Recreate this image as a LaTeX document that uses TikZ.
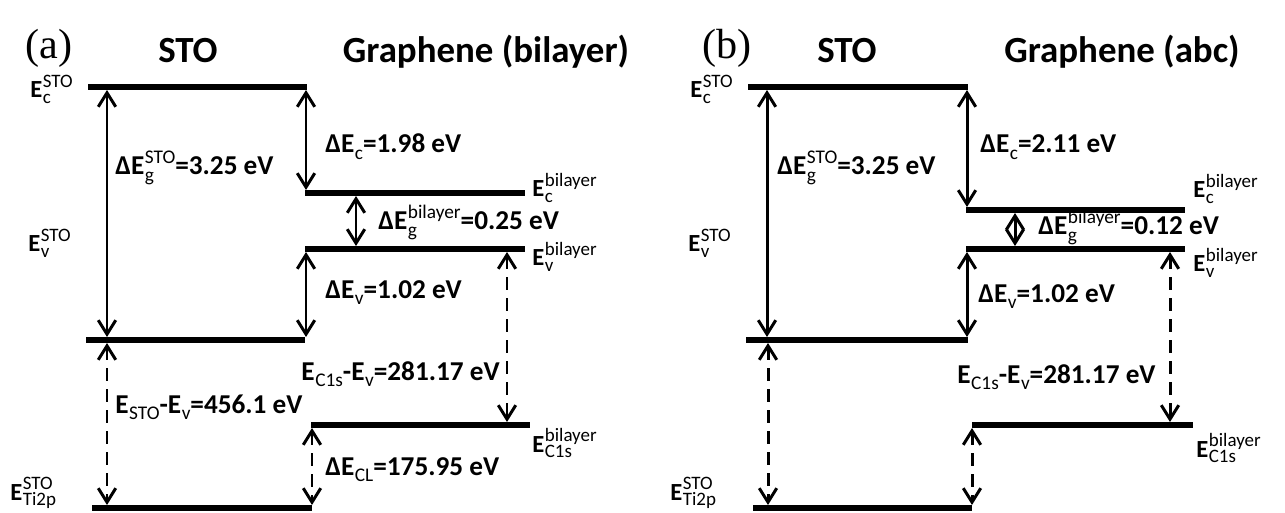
\documentclass[tikz,border=0pt]{standalone}
\usepackage{fontspec}
\setmainfont{Carlito}
\newfontfamily\tagfont{Liberation Serif}
\usetikzlibrary{arrows.meta}

% sub/superscripts in regular weight, size set by the label style
\newcommand{\subfnt}{\mdseries}
\newcommand{\lowtxt}[1]{\kern.02em\raisebox{-0.24em}{\subfnt #1}}
\newcommand{\hightxt}[1]{\kern.02em\raisebox{0.42em}{\subfnt #1}}
\newcommand{\bothtxt}[2]{\kern.02em\begingroup
  \setbox0\hbox{\raisebox{-0.24em}{\subfnt #1}}%
  \setbox2\hbox{\raisebox{0.42em}{\subfnt #2}}%
  \ifdim\wd0>\wd2 \rlap{\box2}\box0 \else\rlap{\box0}\box2 \fi\endgroup}

\tikzset{
  bandline/.style={line width=3.4pt},
  gaparrow/.style={line width=1.7pt,{Straight Barb[length=2.8mm,width=3.5mm]}-{Straight Barb[length=2.8mm,width=3.5mm]}},
  corearrow/.style={gaparrow,dash pattern=on 2.6mm off 1.6mm},
  gaplabel/.style={anchor=base west,inner sep=0pt,
    font=\fontsize{15.5}{18}\selectfont\bfseries\renewcommand{\subfnt}{\fontsize{11}{12}\selectfont\mdseries}},
  levlabel/.style={anchor=base west,inner sep=0pt,
    font=\fontsize{14}{16}\selectfont\bfseries\renewcommand{\subfnt}{\fontsize{10.8}{12}\selectfont\mdseries}},
  heading/.style={anchor=base,inner sep=0pt,font=\fontsize{21}{24}\selectfont\bfseries},
  paneltag/.style={anchor=base west,inner sep=0pt,font=\fontsize{24}{26}\selectfont\tagfont},
}

\begin{document}
\begin{tikzpicture}[x=0.02cm,y=-0.02cm]
\path[use as bounding box] (0,0) rectangle (1285,513);

% ---- panel (a)
\node[paneltag] (a-tag) at (25,59) {(a)};
\node[heading] (a-sto) at (188,63) {STO};
\node[heading] (a-gr) at (486,63) {Graphene (bilayer)};

\coordinate (a-ecs1) at (88,87);   \coordinate (a-ecs2) at (307,87);
\coordinate (a-evs1) at (86,340);  \coordinate (a-evs2) at (305,340);
\coordinate (a-ti1) at (92,508);   \coordinate (a-ti2) at (312,508);
\coordinate (a-ecb1) at (305,193); \coordinate (a-ecb2) at (525,193);
\coordinate (a-evb1) at (305,249); \coordinate (a-evb2) at (525,249);
\coordinate (a-c1s1) at (311,425); \coordinate (a-c1s2) at (530,425);
\draw[bandline] (a-ecs1) -- (a-ecs2);
\draw[bandline] (a-evs1) -- (a-evs2);
\draw[bandline] (a-ti1) -- (a-ti2);
\draw[bandline] (a-ecb1) -- (a-ecb2);
\draw[bandline] (a-evb1) -- (a-evb2);
\draw[bandline] (a-c1s1) -- (a-c1s2);

\node[levlabel] (a-ecs-l) at (30,98) {E\bothtxt{c}{STO}};
\node[levlabel] (a-evs-l) at (28,252) {E\bothtxt{v}{STO}};
\node[levlabel] (a-ti-l) at (10,500) {E\bothtxt{Ti2p}{STO}};
\node[levlabel] (a-ecb-l) at (532,197) {E\bothtxt{c}{bilayer}};
\node[levlabel] (a-evb-l) at (532,266) {E\bothtxt{v}{bilayer}};
\node[levlabel] (a-c1s-l) at (532,452) {E\bothtxt{C1s}{bilayer}};

\coordinate (a-g1) at (107,90);   \coordinate (a-g2) at (107,337);
\coordinate (a-c1) at (306,90);   \coordinate (a-c2) at (306,190);
\coordinate (a-b1) at (356,196);  \coordinate (a-b2) at (356,246);
\coordinate (a-v1) at (306,252);  \coordinate (a-v2) at (306,337);
\coordinate (a-s1) at (107,343);  \coordinate (a-s2) at (107,505);
\coordinate (a-k1) at (507,252);  \coordinate (a-k2) at (507,422);
\coordinate (a-l1) at (312,428);  \coordinate (a-l2) at (312,505);
\draw[gaparrow] (a-g1) -- (a-g2);
\draw[gaparrow] (a-c1) -- (a-c2);
\draw[gaparrow] (a-b1) -- (a-b2);
\draw[gaparrow] (a-v1) -- (a-v2);
\draw[corearrow] (a-s1) -- (a-s2);
\draw[corearrow] (a-k1) -- (a-k2);
\draw[corearrow] (a-l1) -- (a-l2);

\node[gaplabel] (a-g-l) at (115,175) {ΔE\bothtxt{g}{STO}=3.25 eV};
\node[gaplabel] (a-c-l) at (325,153) {ΔE\lowtxt{c}=1.98 eV};
\node[gaplabel] (a-b-l) at (378,230) {ΔE\bothtxt{g}{bilayer}=0.25 eV};
\node[gaplabel] (a-v-l) at (325,298) {ΔE\lowtxt{v}=1.02 eV};
\node[gaplabel] (a-s-l) at (115,413) {E\lowtxt{STO}-E\lowtxt{v}=456.1 eV};
\node[gaplabel,anchor=base east] (a-k-l) at (500,380) {E\lowtxt{C1s}-E\lowtxt{v}=281.17 eV};
\node[gaplabel] (a-l-l) at (325,475) {ΔE\lowtxt{CL}=175.95 eV};

% ---- panel (b)
\node[paneltag] (b-tag) at (702,59) {(b)};
\node[heading] (b-sto) at (847,63) {STO};
\node[heading] (b-gr) at (1122,63) {Graphene (abc)};

\coordinate (b-ecs1) at (748,87);   \coordinate (b-ecs2) at (968,87);
\coordinate (b-evs1) at (746,340);  \coordinate (b-evs2) at (968,340);
\coordinate (b-ti1) at (753,508);   \coordinate (b-ti2) at (972,508);
\coordinate (b-eca1) at (966,210);  \coordinate (b-eca2) at (1185,210);
\coordinate (b-eva1) at (966,249);  \coordinate (b-eva2) at (1185,249);
\coordinate (b-c1s1) at (972,425);  \coordinate (b-c1s2) at (1193,425);
\draw[bandline] (b-ecs1) -- (b-ecs2);
\draw[bandline] (b-evs1) -- (b-evs2);
\draw[bandline] (b-ti1) -- (b-ti2);
\draw[bandline] (b-eca1) -- (b-eca2);
\draw[bandline] (b-eva1) -- (b-eva2);
\draw[bandline] (b-c1s1) -- (b-c1s2);

\node[levlabel] (b-ecs-l) at (690,98) {E\bothtxt{c}{STO}};
\node[levlabel] (b-evs-l) at (688,252) {E\bothtxt{v}{STO}};
\node[levlabel] (b-ti-l) at (670,500) {E\bothtxt{Ti2p}{STO}};
\node[levlabel] (b-eca-l) at (1193,198) {E\bothtxt{c}{bilayer}};
\node[levlabel] (b-eva-l) at (1193,272) {E\bothtxt{v}{bilayer}};
\node[levlabel] (b-c1s-l) at (1196,457) {E\bothtxt{C1s}{bilayer}};

\coordinate (b-g1) at (767,90);    \coordinate (b-g2) at (767,337);
\coordinate (b-c1) at (967,90);    \coordinate (b-c2) at (967,207);
\coordinate (b-b1) at (1015,213);  \coordinate (b-b2) at (1015,246);
\coordinate (b-v1) at (967,252);   \coordinate (b-v2) at (967,337);
\coordinate (b-s1) at (768,343);   \coordinate (b-s2) at (768,505);
\coordinate (b-k1) at (1170,252);  \coordinate (b-k2) at (1170,422);
\coordinate (b-l1) at (972,428);   \coordinate (b-l2) at (972,505);
\draw[gaparrow] (b-g1) -- (b-g2);
\draw[gaparrow] (b-c1) -- (b-c2);
\draw[gaparrow] (b-b1) -- (b-b2);
\draw[gaparrow] (b-v1) -- (b-v2);
\draw[corearrow] (b-s1) -- (b-s2);
\draw[corearrow] (b-k1) -- (b-k2);
\draw[corearrow] (b-l1) -- (b-l2);

\node[gaplabel] (b-g-l) at (777,175) {ΔE\bothtxt{g}{STO}=3.25 eV};
\node[gaplabel] (b-c-l) at (980,153) {ΔE\lowtxt{c}=2.11 eV};
\node[gaplabel] (b-b-l) at (1038,235) {ΔE\bothtxt{g}{bilayer}=0.12 eV};
\node[gaplabel] (b-v-l) at (978,302) {ΔE\lowtxt{v}=1.02 eV};
\node[gaplabel] (b-k-l) at (957,383) {E\lowtxt{C1s}-E\lowtxt{v}=281.17 eV};
\end{tikzpicture}
\end{document}
